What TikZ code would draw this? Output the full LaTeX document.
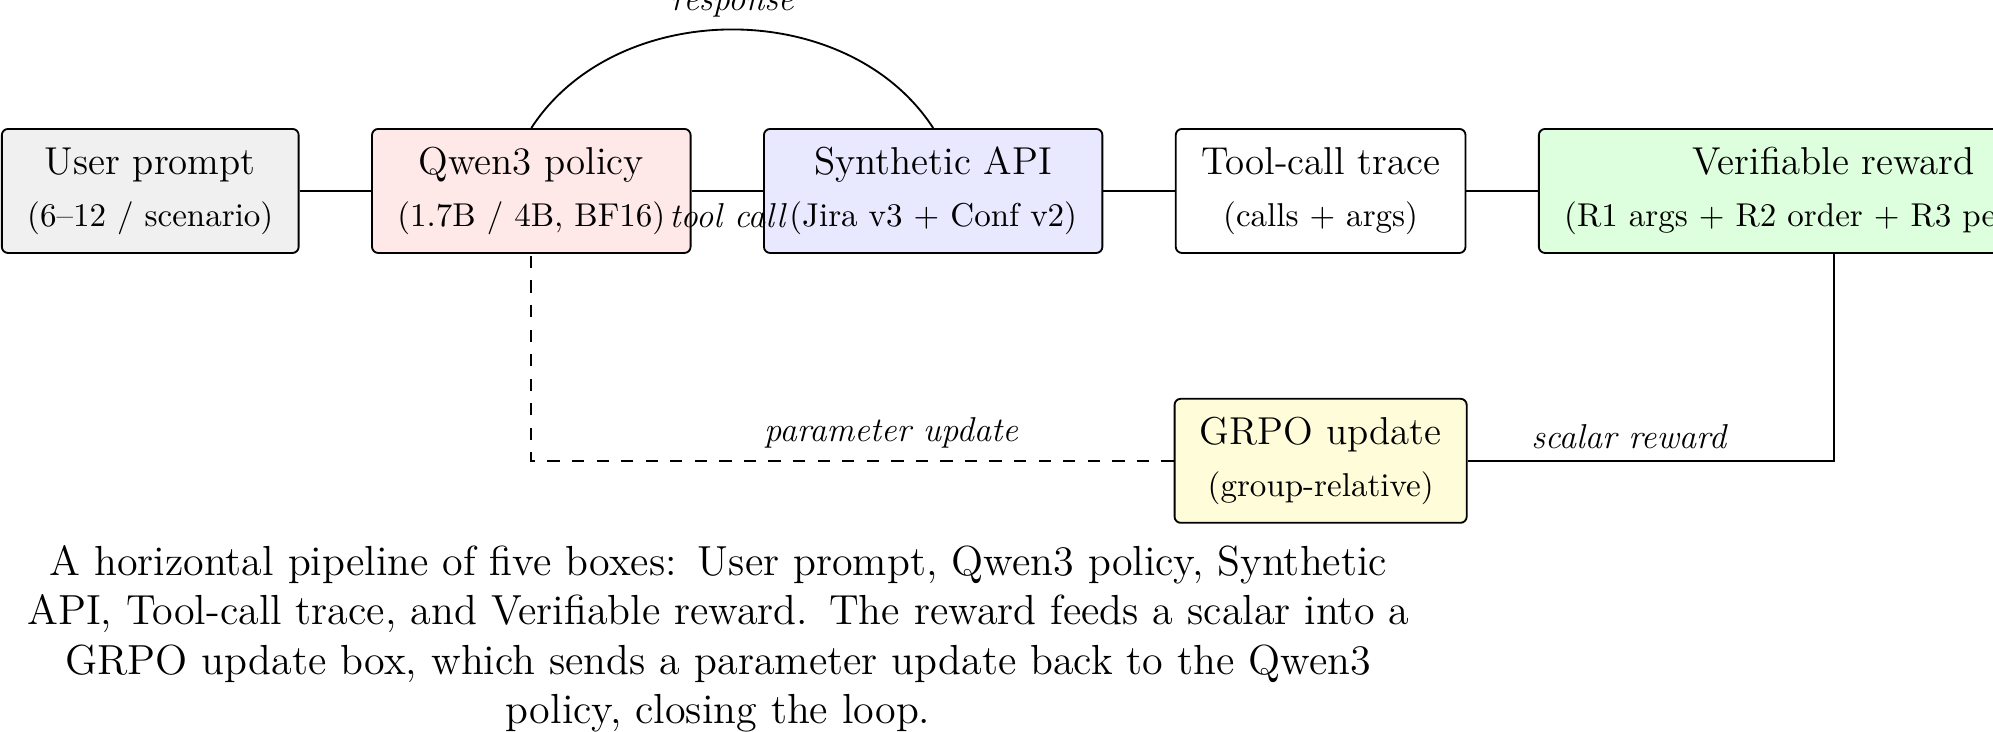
\documentclass[11pt,tikz,border=0pt]{standalone}
\usetikzlibrary{positioning}

\begin{document}
\begin{tikzpicture}[
      stage/.style={draw, semithick, rounded corners=2pt, align=center, font=\fontsize{10.76pt}{12.9pt}\selectfont, minimum height=40.4pt, inner xsep=8.25pt},
      link/.style={semithick},
      tag/.style={font=\fontsize{11.25pt}{13.5pt}\selectfont\itshape}
    ]
    \node[stage, fill=gray!12] (prompt) at (0,0) {{\fontsize{12.67pt}{15.2pt}\selectfont User prompt}\\[4pt](6--12 / scenario)};
    \useasboundingbox ([xshift=-0.3pt,yshift=-155.7pt]prompt.south west) rectangle ++(649.2pt,238.4pt);
    \node[stage, fill=red!9, right=23.3pt of prompt] (policy) {{\fontsize{12.67pt}{15.2pt}\selectfont Qwen3 policy}\\[4pt](1.7B / 4B, BF16)};
    \node[stage, fill=blue!9, right=23.3pt of policy] (api) {{\fontsize{12.67pt}{15.2pt}\selectfont Synthetic API}\\[4pt](Jira v3 + Conf v2)};
    \node[stage, fill=white, right=23.3pt of api] (trace) {{\fontsize{12.67pt}{15.2pt}\selectfont Tool-call trace}\\[4pt](calls + args)};
    \node[stage, fill=green!13, right=23.3pt of trace] (reward) {{\fontsize{12.67pt}{15.2pt}\selectfont Verifiable reward}\\[4pt](R1 args + R2 order + R3 penalties)};
    \node[stage, fill=yellow!15, below=46.9pt of trace] (grpo) {{\fontsize{12.67pt}{15.2pt}\selectfont GRPO update}\\[4pt](group-relative)};
    \draw[link] (prompt) -- (policy);
    \draw[link] (policy) -- node[tag, below]{tool call} (api);
    \draw[link] (policy.north) to[bend left=57] node[tag, above]{response} (api.north);
    \draw[link] (api) -- (trace);
    \draw[link] (trace) -- (reward);
    \draw[link] (reward.south) |- node[tag, above, pos=0.78]{scalar reward} (grpo.east);
    \draw[link, dash pattern=on 4pt off 4pt] (grpo.west) -| node[tag, above, pos=0.22]{parameter update} (policy.south);
    \node[font=\fontsize{13.7pt}{16.1pt}\selectfont, align=center, text width=480pt, anchor=north] (caption) at (185pt,-111.6pt)
      {A horizontal pipeline of five boxes: User prompt, Qwen3 policy, Synthetic\\
       API, Tool-call trace, and Verifiable reward. The reward feeds a scalar into a\\
       GRPO update box, which sends a parameter update back to the Qwen3\\
       policy, closing the loop.};
  \end{tikzpicture}
\end{document}
